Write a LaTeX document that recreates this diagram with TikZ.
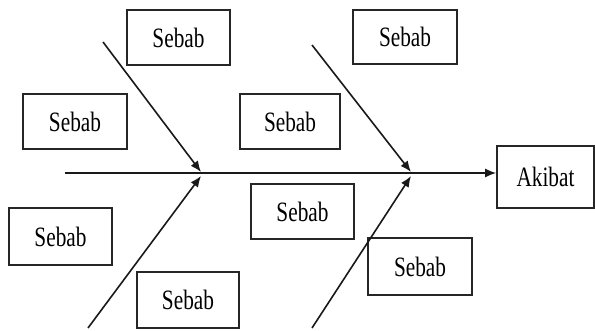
\documentclass[tikz,border=0pt]{standalone}
\usepackage{fontspec}
\usepackage{graphicx}
\setmainfont{Liberation Serif}
\usetikzlibrary{arrows.meta}

\tikzset{
  causebox/.style={draw=black!85, line width=1.6pt, inner sep=0pt,
    minimum width=103pt, minimum height=55pt,
    font=\fontsize{28}{30}\selectfont},
  bone/.style={draw=black!90, line width=1.6pt,
    -{Latex[length=11pt,width=9pt]}},
}
\newcommand{\lbl}[1]{\scalebox{0.76}[1]{#1}}

\begin{document}
\begin{tikzpicture}[x=1pt,y=-1pt]
  \useasboundingbox (0,0) rectangle (595,331);

  % cause boxes
  \node[causebox] (s1) at (178.5,37.5) {\lbl{Sebab}};
  \node[causebox, minimum width=104pt] (s2) at (75,121.5) {\lbl{Sebab}};
  \node[causebox, minimum height=57pt] (s3) at (60.5,236.5) {\lbl{Sebab}};
  \node[causebox, minimum width=102pt, minimum height=56pt] (s4) at (188,300) {\lbl{Sebab}};
  \node[causebox, minimum width=100pt] (s5) at (290,121.5) {\lbl{Sebab}};
  \node[causebox] (s6) at (302.5,211.5) {\lbl{Sebab}};
  \node[causebox, minimum width=104pt, minimum height=54pt] (s7) at (405,37) {\lbl{Sebab}};
  \node[causebox, minimum width=104pt, minimum height=57pt] (s8) at (420,266.5) {\lbl{Sebab}};

  % effect box
  \node[causebox, minimum width=97pt, minimum height=62pt] (ak) at (545.5,177) {\lbl{Akibat}};

  % bone end points
  \coordinate (tail) at (65,173);
  \coordinate (a1) at (103,42);
  \coordinate (a2) at (88,328);
  \coordinate (a3) at (312,45);
  \coordinate (a4) at (312,328);
  \coordinate (j1u) at (201,172);
  \coordinate (j1d) at (201,176);
  \coordinate (j2u) at (411,172);
  \coordinate (j2d) at (411,176);

  % main spine, kept horizontal
  \draw[bone] (tail) -- (tail -| ak.west);

  % branches
  \draw[bone] (a1) -- (j1u);
  \draw[bone] (a2) -- (j1d);
  \draw[bone] (a3) -- (j2u);
  \draw[bone] (a4) -- (j2d);
\end{tikzpicture}
\end{document}
